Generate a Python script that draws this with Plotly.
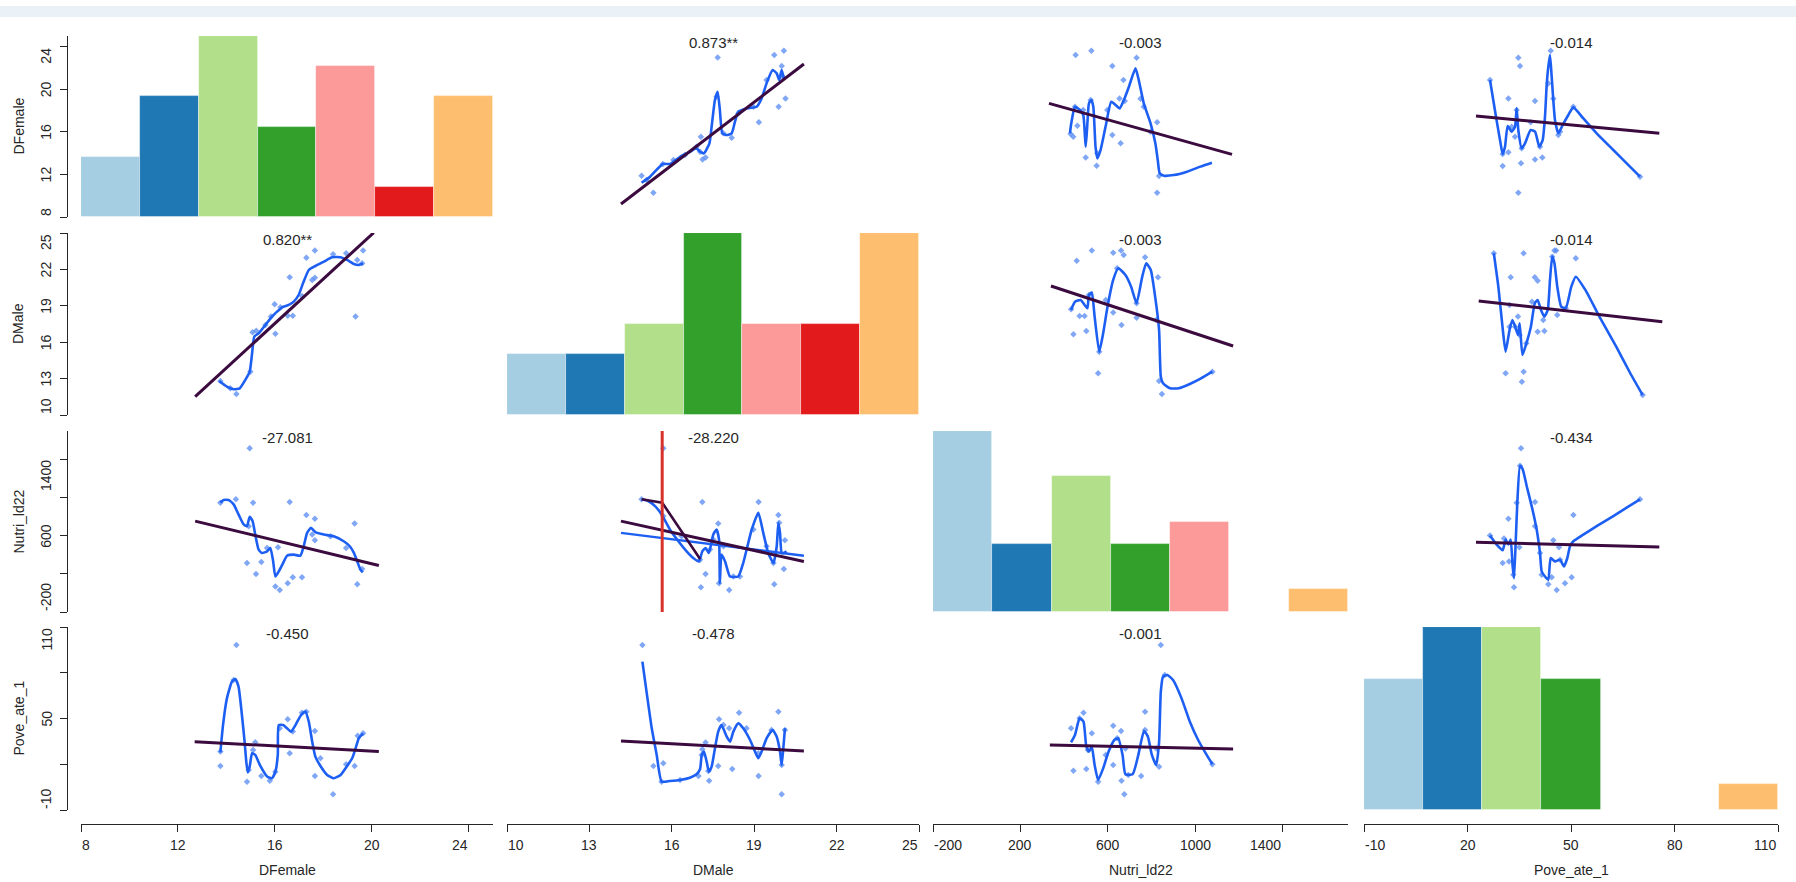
import numpy as np
import plotly.graph_objects as go

W, H = 1796, 882

# ---------------- variables, scales, ticks ----------------
var_names = ["DFemale", "DMale", "Nutri_ld22", "Pove_ate_1"]
dfemale_range = [8, 25]
dmale_range = [10, 25]
nutri_range = [-200, 1700]
pove_range = [-10, 110]

dfemale_ticks = [8, 12, 16, 20, 24]
dmale_ticks = [10, 13, 16, 19, 22, 25]
nutri_ticks = [-200, 200, 600, 1000, 1400]
pove_ticks = [-10, 20, 50, 80, 110]
nutri_row_labels = ["-200", "", "600", "", "1400"]
pove_row_labels = ["-10", "", "50", "", "110"]

# ---------------- diagonal histograms (7 equal bins) ----------------
dfemale_counts = [2, 4, 6, 3, 5, 1, 4]
dmale_counts = [2, 2, 3, 6, 3, 3, 6]
nutri_counts = [8, 3, 6, 3, 4, 0, 1]
pove_counts = [5, 7, 7, 5, 0, 0, 1]
bin_colors = ["#A6CEE3", "#1F78B4", "#B2DF8A", "#33A02C", "#FB9A99", "#E31A1C", "#FDBF6F"]

# ---------------- row 1: DFemale ----------------
r1c2_label = "0.873**"
r1c2_x = [14.90, 15.08, 15.33, 15.67, 16.06, 16.48, 16.90, 17.03, 17.06, 17.12, 17.23, 17.63, 17.67,
          17.88, 18.18, 18.42, 18.97, 19.17, 19.45, 19.73, 19.89, 20.08, 20.00, 20.04, 20.14]
r1c2_y = [11.88, 11.47, 10.28, 12.98, 13.35, 13.82, 14.60, 14.13, 15.54, 13.41, 13.60, 19.30, 22.99,
          15.86, 15.45, 17.73, 18.36, 16.89, 20.86, 23.21, 18.36, 23.62, 22.18, 21.18, 19.14]
r1c2_sx = [14.90, 15.21, 15.67, 15.93, 16.30, 16.66, 16.90, 17.03, 17.17, 17.37, 17.45, 17.57, 17.67, 17.75,
           17.84, 18.00, 18.18, 18.30, 18.42, 18.72, 19.09, 19.27, 19.45, 19.67, 19.82, 19.91, 20.00, 20.08]
r1c2_sy = [11.22, 11.79, 12.98, 12.98, 13.66, 14.13, 14.45, 14.13, 13.98, 14.92, 16.48, 18.99, 19.77, 18.05,
           15.86, 15.70, 15.86, 16.95, 17.89, 18.20, 18.36, 19.14, 20.55, 21.80, 21.49, 20.86, 21.80, 21.02]
r1c2_fit_x = [14.15, 20.81]
r1c2_fit_y = [9.22, 22.37]

r1c3_label = "-0.003"
r1c3_x = [453, 525, 621, 672, 732, 654, 678, 750, 765, 461, 430, 442, 621, 659, 499, 549, 826, 835, 826,
          450, 488, 522, 552, 598, 796]
r1c3_y = [23.21, 23.62, 22.18, 20.86, 22.96, 19.14, 18.89, 19.11, 18.36, 16.58, 15.79, 15.54, 15.70, 14.92,
          13.60, 12.82, 16.89, 11.85, 10.28, 18.36, 18.05, 18.99, 13.98, 18.05, 16.01]
r1c3_sx = [427, 433, 450, 473, 488, 499, 506, 514, 525, 534, 544, 552, 567, 590, 616, 636, 655, 674, 697,
           727, 742, 765, 796, 818, 829, 838, 857, 902, 963, 1024, 1077]
r1c3_sy = [15.86, 16.80, 18.36, 18.05, 17.58, 14.60, 16.48, 18.67, 18.99, 18.36, 14.60, 13.51, 14.29, 16.48,
           18.83, 18.52, 18.20, 18.99, 20.24, 21.96, 20.86, 18.67, 16.80, 14.92, 13.35, 12.10, 11.88, 11.94,
           12.26, 12.73, 13.10]
r1c3_fit_x = [331, 1169]
r1c3_fit_y = [18.67, 13.88]

r1c4_label = "-0.014"
r1c4_x = [34.73, 35.22, 44.11, 31.84, 39.57, 44.88, 50.68, 38.31, 33.77, 31.84, 30.19, 35.51, 39.57, 41.69,
          34.73, 46.33, 26.52, 70.00, 30.19, 34.25, 35.70, 41.01, 43.43, 46.81, 32.80]
r1c4_y = [22.96, 22.18, 23.62, 19.14, 18.89, 19.11, 18.36, 16.89, 15.54, 14.07, 12.79, 13.04, 13.41, 13.60,
          10.28, 15.70, 20.86, 11.79, 13.92, 18.05, 14.45, 14.60, 20.55, 16.01, 16.48]
r1c4_sx = [26.52, 28.26, 29.42, 30.19, 30.87, 31.64, 32.80, 33.77, 34.25, 34.73, 35.70, 36.67, 38.31, 39.57,
           40.82, 41.79, 42.46, 42.95, 43.43, 43.91, 44.40, 45.36, 46.33, 47.58, 49.23, 50.68, 53.57, 57.44,
           62.27, 66.14, 70.00]
r1c4_sy = [20.86, 17.42, 15.23, 13.92, 14.60, 16.54, 16.01, 16.48, 18.20, 16.17, 14.45, 14.92, 16.17, 16.01,
           14.60, 15.23, 17.42, 20.39, 22.12, 23.21, 21.18, 17.11, 15.86, 16.64, 17.58, 18.30, 17.26, 15.86,
           14.29, 13.04, 11.79]
r1c4_fit_x = [22.46, 75.60]
r1c4_fit_y = [17.48, 15.86]

# ---------------- row 2: DMale ----------------
r2c1_label = "0.820**"
r2c1_x = [13.75, 14.41, 14.99, 15.08, 15.23, 16.02, 15.99, 16.23, 16.61, 16.53, 16.74, 17.12, 17.30, 17.65,
          17.54, 17.65, 18.40, 18.94, 19.33, 19.40, 19.64, 15.61, 15.84, 14.16, 19.60]
r2c1_y = [12.80, 11.73, 13.57, 16.82, 16.95, 16.70, 19.12, 18.88, 21.35, 18.19, 18.19, 19.81, 22.97, 23.55,
          21.13, 21.32, 23.25, 23.33, 18.11, 22.78, 23.55, 17.42, 18.11, 12.20, 22.50]
r2c1_sx = [13.70, 14.02, 14.30, 14.55, 14.78, 14.96, 15.06, 15.15, 15.33, 15.61, 15.88, 16.09, 16.30, 16.57,
           16.78, 16.98, 17.16, 17.40, 17.67, 18.02, 18.36, 18.71, 18.98, 19.26, 19.46, 19.64]
r2c1_sy = [12.80, 12.34, 12.12, 12.20, 12.89, 13.57, 15.08, 16.46, 16.73, 17.42, 18.11, 18.52, 18.88, 19.07,
           19.34, 19.89, 20.85, 21.95, 22.28, 22.64, 23.00, 23.00, 22.78, 22.45, 22.37, 22.50]
r2c1_fit_x = [12.71, 20.08]
r2c1_fit_y = [11.51, 25.03]

r2c3_label = "-0.003"
r2c3_x = [458, 527, 625, 661, 673, 771, 830, 432, 471, 494, 502, 443, 625, 663, 732, 556, 835, 848, 514,
          561, 643, 732, 822, 1079, 591]
r2c3_y = [22.72, 23.55, 23.38, 23.55, 23.19, 23.00, 21.35, 18.71, 18.16, 18.16, 16.92, 16.65, 18.44, 17.42,
          18.02, 13.44, 12.80, 11.73, 19.89, 15.22, 22.09, 19.21, 17.83, 13.57, 19.48]
r2c3_sx = [432, 450, 476, 494, 507, 514, 527, 540, 561, 579, 599, 625, 648, 681, 707, 732, 758, 776, 797,
           817, 835, 843, 853, 886, 925, 976, 1027, 1079]
r2c3_sy = [18.66, 19.34, 19.48, 19.07, 18.79, 19.89, 20.09, 18.11, 15.22, 16.73, 18.93, 21.13, 22.09, 21.54,
           20.58, 19.21, 21.40, 22.50, 21.95, 19.76, 17.01, 13.16, 12.61, 12.20, 12.20, 12.56, 13.02, 13.57]
r2c3_fit_x = [340, 1174]
r2c3_fit_y = [20.63, 15.69]

r2c4_label = "-0.014"
r2c4_x = [36.26, 45.21, 45.70, 51.39, 32.52, 39.51, 40.33, 32.19, 34.63, 38.70, 32.19, 41.95, 42.28, 40.33,
          46.02, 31.05, 36.26, 35.77, 27.63, 33.82, 44.56, 70.76, 37.07, 48.46, 35.12]
r2c4_y = [23.33, 23.55, 23.55, 22.92, 21.35, 21.35, 21.07, 19.07, 18.11, 19.34, 17.28, 17.83, 16.92, 16.87,
          18.24, 13.44, 13.57, 12.75, 23.33, 17.28, 23.05, 11.65, 15.91, 18.79, 16.60]
r2c4_sx = [27.63, 28.94, 30.24, 31.05, 32.19, 33.00, 33.82, 34.63, 35.12, 35.93, 37.07, 38.37, 39.51, 40.33,
           41.30, 42.28, 43.26, 43.91, 44.56, 45.21, 46.02, 47.16, 48.46, 50.09, 51.39, 54.16, 58.23, 63.11,
           67.18, 70.76]
r2c4_sy = [23.33, 20.58, 17.01, 15.22, 17.01, 17.83, 17.28, 16.60, 17.56, 14.95, 15.91, 17.28, 19.21, 19.48,
           18.66, 18.11, 18.66, 21.13, 23.05, 22.50, 20.58, 18.93, 18.79, 20.58, 21.40, 20.31, 18.11, 15.63,
           13.44, 11.65]
r2c4_fit_x = [23.24, 76.46]
r2c4_fit_y = [19.40, 17.69]

# ---------------- row 3: Nutri_ld22 ----------------
r3c1_label = "-27.081"
r3c1_x = [13.75, 14.39, 15.10, 14.96, 16.61, 17.30, 17.65, 19.29, 17.54, 17.65, 14.85, 15.44, 15.22, 16.13,
          16.02, 16.20, 16.53, 16.74, 17.12, 19.40, 18.94, 19.60, 14.92, 15.68, 18.29]
r3c1_y = [948, 983, 948, 1518, 954, 817, 779, 729, 613, 553, 314, 324, 198, 479, 67, 32, 103, 166, 166,
          92, 472, 251, 701, 472, 595]
r3c1_sx = [13.75, 13.88, 14.09, 14.30, 14.50, 14.71, 14.85, 14.96, 15.08, 15.19, 15.33, 15.47, 15.68, 15.81,
           15.92, 16.02, 16.16, 16.34, 16.50, 16.78, 17.05, 17.19, 17.33, 17.49, 17.67, 18.02, 18.43, 18.84,
           19.09, 19.26, 19.40, 19.53, 19.63]
r3c1_sy = [948, 976, 976, 930, 824, 719, 701, 800, 754, 613, 455, 420, 437, 472, 349, 173, 226, 314, 391,
           402, 391, 490, 631, 684, 638, 613, 595, 543, 490, 420, 331, 244, 215]
r3c1_fit_x = [12.71, 20.29]
r3c1_fit_y = [754, 289]

r3c2_label = "-28.220"
r3c2_x = [14.90, 17.11, 17.69, 19.16, 19.88, 20.12, 20.08, 17.23, 17.06, 17.72, 18.09, 19.73, 15.69, 17.88,
          17.03, 17.51, 18.48, 18.97, 19.70, 19.91, 16.36, 18.24, 15.69, 17.39, 19.45]
r3c2_y = [983, 954, 729, 954, 817, 553, 251, 198, 60, 103, 32, 92, 1518, 490, 349, 560, 173, 666, 314, 736,
          595, 173, 807, 455, 490]
r3c2_sx = [14.90, 15.14, 15.39, 15.63, 15.93, 16.24, 16.54, 16.78, 16.99, 17.11, 17.23, 17.35, 17.51, 17.63,
           17.72, 17.75, 17.81, 17.94, 18.12, 18.42, 18.60, 18.91, 19.15, 19.33, 19.51, 19.70, 19.82, 19.88,
           19.94, 20.00, 20.08, 20.18]
r3c2_sy = [983, 965, 912, 824, 666, 543, 437, 367, 331, 437, 472, 420, 613, 666, 560, 103, 402, 331, 173,
           173, 314, 666, 842, 631, 420, 314, 490, 736, 631, 420, 420, 437]
r3c2_fit_x = [14.15, 20.81]
r3c2_fit_y = [754, 331]
r3c2_alt_fit_x = [14.15, 20.81]
r3c2_alt_fit_y = [631, 391]
r3c2_segment_x = [14.90, 15.65, 17.03]
r3c2_segment_y = [983, 948, 356]
r3c2_marker_x = 15.65

r3c4_label = "-0.434"
r3c4_x = [35.51, 39.57, 31.84, 30.58, 50.68, 44.88, 46.52, 35.02, 30.19, 32.03, 33.48, 43.43, 45.85, 48.26,
          50.19, 44.40, 26.52, 70.00, 35.22, 33.28, 41.50, 34.25, 39.57, 46.81, 41.01]
r3c4_y = [1518, 954, 779, 571, 817, 553, 479, 479, 314, 331, 60, 92, 32, 103, 166, 166, 603, 983, 1335,
          191, 191, 948, 701, 349, 420]
r3c4_sx = [26.52, 28.45, 30.19, 31.06, 31.84, 32.51, 33.09, 33.48, 33.96, 34.44, 35.22, 35.99, 37.15, 38.60,
           40.05, 41.01, 41.50, 42.46, 43.43, 44.11, 45.36, 46.81, 47.97, 48.94, 49.71, 50.68, 53.57, 57.44,
           62.27, 66.14, 70.00]
r3c4_sy = [603, 508, 448, 560, 508, 560, 279, 156, 525, 948, 1335, 1300, 1123, 912, 666, 420, 226, 173, 138,
           367, 331, 349, 279, 367, 490, 543, 613, 701, 807, 895, 983]
r3c4_fit_x = [22.46, 75.60]
r3c4_fit_y = [532, 483]

# ---------------- row 4: Pove_ate_1 ----------------
r4c1_label = "-0.450"
r4c1_x = [14.41, 13.75, 14.85, 15.19, 15.10, 15.44, 15.79, 16.20, 16.53, 16.61, 16.74, 17.12, 17.30, 17.65,
          17.65, 18.40, 18.94, 19.29, 19.42, 13.75, 14.30, 14.92, 16.02, 17.88, 19.64]
r4c1_y = [98.2, 18.9, 8.6, 34.4, 29.3, 12.3, 9.2, 43.6, 49.5, 27.2, 41.4, 53.8, 54.5, 41.8, 12.3, 0.3, 20.0,
          18.9, 38.7, 28.3, 75.2, 16.2, 15.1, 23.9, 40.3]
r4c1_sx = [13.75, 13.86, 14.02, 14.23, 14.37, 14.50, 14.64, 14.75, 14.82, 14.88, 14.96, 15.06, 15.19, 15.40,
           15.68, 15.88, 16.02, 16.12, 16.16, 16.34, 16.50, 16.67, 16.85, 17.08, 17.26, 17.40, 17.54, 17.67,
           17.88, 18.16, 18.43, 18.71, 18.98, 19.19, 19.33, 19.46, 19.64]
r4c1_sy = [27.8, 45.7, 63.2, 74.2, 75.9, 70.9, 52.3, 34.8, 21.7, 14.7, 18.4, 27.2, 26.1, 18.9, 11.9, 10.8,
           15.1, 26.1, 45.7, 45.7, 43.6, 41.4, 45.7, 52.3, 54.5, 47.9, 34.8, 25.0, 18.9, 13.0, 10.8, 13.0,
           18.9, 23.9, 30.4, 37.0, 40.3]
r4c1_fit_x = [12.69, 20.29]
r4c1_fit_y = [34.8, 28.3]

r4c2_label = "-0.478"
r4c2_x = [14.93, 15.33, 15.69, 16.97, 17.11, 17.23, 17.36, 17.69, 17.72, 18.09, 18.20, 18.45, 19.16, 19.15,
          19.88, 20.00, 20.12, 15.63, 16.30, 17.09, 17.33, 17.88, 18.72, 19.63, 20.00]
r4c2_y = [98.2, 18.9, 20.6, 12.3, 29.8, 34.2, 9.2, 18.9, 49.5, 43.6, 16.9, 53.8, 12.3, 27.2, 54.5, 0.3, 42.5,
          8.6, 9.7, 26.1, 15.6, 45.7, 43.6, 42.5, 19.5]
r4c2_sx = [14.93, 15.08, 15.27, 15.45, 15.63, 15.93, 16.30, 16.66, 16.90, 17.03, 17.09, 17.17, 17.27, 17.35,
           17.45, 17.57, 17.69, 17.81, 18.00, 18.12, 18.24, 18.42, 18.60, 18.85, 19.03, 19.15, 19.27, 19.45,
           19.67, 19.82, 19.94, 20.00, 20.06, 20.12]
r4c2_sy = [87.3, 67.6, 43.6, 26.1, 8.6, 9.0, 9.7, 11.2, 13.4, 16.9, 26.1, 28.3, 21.7, 15.1, 18.4, 30.4,
           41.4, 45.7, 38.1, 34.8, 41.4, 46.8, 43.6, 35.9, 28.3, 23.9, 28.3, 37.0, 42.5, 38.1, 28.3, 19.5,
           30.4, 43.6]
r4c2_fit_x = [14.15, 20.81]
r4c2_fit_y = [35.2, 28.7]

r4c3_label = "-0.001"
r4c3_x = [843, 432, 489, 527, 443, 502, 625, 661, 625, 663, 676, 753, 771, 835, 556, 471, 509, 643, 681,
          694, 771, 822, 861, 1079, 591]
r4c3_y = [98.2, 43.6, 53.8, 40.3, 15.8, 16.9, 45.3, 41.8, 19.5, 9.2, 0.3, 12.3, 54.5, 18.4, 8.6, 50.1,
          29.3, 37.0, 30.4, 13.0, 42.5, 30.4, 78.5, 20.0, 26.1]
r4c3_sx = [432, 450, 471, 489, 502, 514, 527, 540, 556, 579, 604, 630, 648, 668, 681, 714, 740, 766, 784,
           802, 822, 835, 843, 853, 873, 899, 938, 976, 1014, 1053, 1079]
r4c3_sy = [34.4, 39.2, 50.1, 47.9, 31.5, 28.3, 31.5, 19.5, 9.7, 17.3, 28.3, 35.9, 37.0, 26.1, 13.4, 13.4,
           26.1, 41.8, 38.1, 26.1, 19.5, 34.4, 67.6, 77.4, 78.5, 75.2, 63.2, 47.9, 35.9, 26.1, 20.0]
r4c3_fit_x = [335, 1174]
r4c3_fit_y = [32.6, 30.0]

# ---------------- styling ----------------
FONT = "Liberation Sans, Arial, Helvetica, sans-serif"
INK = "#262626"
POINT_COLOR = "rgba(86,138,242,0.75)"
SMOOTH_COLOR = "#1D5FF2"
FIT_COLOR = "#3B0B3F"
MARK_COLOR = "#D8302A"

# panel geometry in pixels (left, right) per column and (top, bottom) per row
col_px = [(81, 493), (507, 919), (933, 1348), (1364, 1778)]
row_px = [(36, 217), (233, 415), (431, 612), (627, 810)]
x_axis_px = 824
y_axis_px = 67
x_label_px = 845
y_label_px = 46

ranges = [dfemale_range, dmale_range, nutri_range, pove_range]
col_ticks = [dfemale_ticks, dmale_ticks, nutri_ticks, pove_ticks]
col_labels = [[str(v) for v in t] for t in col_ticks]
row_labels = [[str(v) for v in dfemale_ticks], [str(v) for v in dmale_ticks], nutri_row_labels, pove_row_labels]
counts = [dfemale_counts, dmale_counts, nutri_counts, pove_counts]


def xid(c):
    return "x" if c == 1 else f"x{c}"


def yid(r):
    return "y" if r == 1 else f"y{r}"


def px_x(p):
    return p / W


def px_y(p):
    return 1 - p / H


panels = [
    (1, 2, r1c2_x, r1c2_y, r1c2_sx, r1c2_sy, r1c2_fit_x, r1c2_fit_y, r1c2_label),
    (1, 3, r1c3_x, r1c3_y, r1c3_sx, r1c3_sy, r1c3_fit_x, r1c3_fit_y, r1c3_label),
    (1, 4, r1c4_x, r1c4_y, r1c4_sx, r1c4_sy, r1c4_fit_x, r1c4_fit_y, r1c4_label),
    (2, 1, r2c1_x, r2c1_y, r2c1_sx, r2c1_sy, r2c1_fit_x, r2c1_fit_y, r2c1_label),
    (2, 3, r2c3_x, r2c3_y, r2c3_sx, r2c3_sy, r2c3_fit_x, r2c3_fit_y, r2c3_label),
    (2, 4, r2c4_x, r2c4_y, r2c4_sx, r2c4_sy, r2c4_fit_x, r2c4_fit_y, r2c4_label),
    (3, 1, r3c1_x, r3c1_y, r3c1_sx, r3c1_sy, r3c1_fit_x, r3c1_fit_y, r3c1_label),
    (3, 2, r3c2_x, r3c2_y, r3c2_sx, r3c2_sy, r3c2_fit_x, r3c2_fit_y, r3c2_label),
    (3, 4, r3c4_x, r3c4_y, r3c4_sx, r3c4_sy, r3c4_fit_x, r3c4_fit_y, r3c4_label),
    (4, 1, r4c1_x, r4c1_y, r4c1_sx, r4c1_sy, r4c1_fit_x, r4c1_fit_y, r4c1_label),
    (4, 2, r4c2_x, r4c2_y, r4c2_sx, r4c2_sy, r4c2_fit_x, r4c2_fit_y, r4c2_label),
    (4, 3, r4c3_x, r4c3_y, r4c3_sx, r4c3_sy, r4c3_fit_x, r4c3_fit_y, r4c3_label),
]

fig = go.Figure()

# diagonal: histograms drawn on their own hidden count axes
for i in range(4):
    lo, hi = ranges[i]
    edges = np.linspace(lo, hi, len(counts[i]) + 1)
    centers = (edges[:-1] + edges[1:]) / 2
    fig.add_trace(go.Bar(
        x=centers, y=counts[i], width=edges[1] - edges[0],
        marker=dict(color=bin_colors, line=dict(color="rgba(255,255,255,0.55)", width=0.8)),
        xaxis=xid(i + 1), yaxis=f"y{5 + i}", showlegend=False, hoverinfo="skip",
    ))

annotations = []
for (r, c, px, py, sx, sy, fx, fy, label) in panels:
    ax, ay = xid(c), yid(r)
    fig.add_trace(go.Scatter(x=px, y=py, mode="markers", xaxis=ax, yaxis=ay, showlegend=False,
                             marker=dict(symbol="diamond", size=5, color=POINT_COLOR,
                                         line=dict(width=0))))
    fig.add_trace(go.Scatter(x=sx, y=sy, mode="lines", xaxis=ax, yaxis=ay, showlegend=False,
                             line=dict(color=SMOOTH_COLOR, width=2.6, shape="spline", smoothing=0.5)))
    if (r, c) == (3, 2):
        fig.add_trace(go.Scatter(x=r3c2_alt_fit_x, y=r3c2_alt_fit_y, mode="lines", xaxis=ax, yaxis=ay,
                                 showlegend=False, line=dict(color=SMOOTH_COLOR, width=2.4)))
        fig.add_trace(go.Scatter(x=r3c2_segment_x, y=r3c2_segment_y, mode="lines", xaxis=ax, yaxis=ay,
                                 showlegend=False, line=dict(color=FIT_COLOR, width=2.6)))
    fig.add_trace(go.Scatter(x=fx, y=fy, mode="lines", xaxis=ax, yaxis=ay, showlegend=False,
                             line=dict(color=FIT_COLOR, width=3)))
    if (r, c) == (3, 2):
        fig.add_trace(go.Scatter(x=[r3c2_marker_x, r3c2_marker_x], y=[nutri_range[0], nutri_range[1]],
                                 mode="lines", xaxis=ax, yaxis=ay, showlegend=False,
                                 line=dict(color=MARK_COLOR, width=3)))
    cx = (col_px[c - 1][0] + col_px[c - 1][1]) / 2
    annotations.append(dict(x=px_x(cx), y=px_y(row_px[r - 1][0] + 6.5), xref="paper", yref="paper",
                            text=label, showarrow=False, xanchor="center", yanchor="middle",
                            font=dict(family=FONT, size=15, color=INK)))

layout = dict(
    width=W, height=H, margin=dict(l=0, r=0, t=0, b=0, pad=0),
    paper_bgcolor="white", plot_bgcolor="rgba(0,0,0,0)",
    showlegend=False, bargap=0,
)

axis_common = dict(showline=True, linecolor=INK, linewidth=1.4, ticks="outside", ticklen=7,
                   tickwidth=1.4, tickcolor=INK, showgrid=False, zeroline=False,
                   showticklabels=False, fixedrange=True)

tick_font = dict(family=FONT, size=14, color=INK)

for c in range(1, 5):
    key = "xaxis" if c == 1 else f"xaxis{c}"
    layout[key] = dict(axis_common, domain=[px_x(col_px[c - 1][0]), px_x(col_px[c - 1][1])],
                       range=ranges[c - 1], anchor="free", position=px_y(x_axis_px),
                       tickmode="array", tickvals=col_ticks[c - 1])
    # tick labels: end labels kept inside the axis span
    ticks = col_ticks[c - 1]
    for k, (v, t) in enumerate(zip(ticks, col_labels[c - 1])):
        if not t:
            continue
        anchor = "left" if k == 0 else ("right" if k == len(ticks) - 1 else "center")
        annotations.append(dict(x=v, y=px_y(x_label_px), xref=xid(c), yref="paper", text=t,
                                showarrow=False, xanchor=anchor, yanchor="middle",
                                borderpad=0, font=tick_font))

for r in range(1, 5):
    key = "yaxis" if r == 1 else f"yaxis{r}"
    dom = [px_y(row_px[r - 1][1]), px_y(row_px[r - 1][0])]
    layout[key] = dict(axis_common, domain=dom, range=ranges[r - 1], anchor="free",
                       position=px_x(y_axis_px), tickmode="array", tickvals=col_ticks[r - 1])
    layout[f"yaxis{4 + r}"] = dict(domain=dom, range=[0, max(counts[r - 1])], anchor=xid(r),
                                   visible=False, fixedrange=True)
    ticks = col_ticks[r - 1]
    for k, (v, t) in enumerate(zip(ticks, row_labels[r - 1])):
        if not t:
            continue
        anchor = "bottom" if k == 0 else ("top" if k == len(ticks) - 1 else "middle")
        annotations.append(dict(x=px_x(y_label_px), y=v, xref="paper", yref=yid(r), text=t,
                                showarrow=False, xanchor="center", yanchor=anchor, textangle=-90,
                                borderpad=0, font=tick_font))

# axis titles
for i, name in enumerate(var_names):
    cx = (col_px[i][0] + col_px[i][1]) / 2
    annotations.append(dict(x=px_x(cx), y=px_y(870), xref="paper", yref="paper", text=name,
                            showarrow=False, xanchor="center", yanchor="middle",
                            font=dict(family=FONT, size=14, color=INK)))
    cy = (row_px[i][0] + row_px[i][1]) / 2
    annotations.append(dict(x=px_x(18), y=px_y(cy), xref="paper", yref="paper", text=name,
                            showarrow=False, xanchor="center", yanchor="middle", textangle=-90,
                            font=dict(family=FONT, size=14, color=INK)))

layout["annotations"] = annotations
layout["shapes"] = [
    dict(type="rect", xref="paper", yref="paper", x0=0, x1=1, y0=px_y(17), y1=px_y(6),
         fillcolor="#EAF2F8", line=dict(width=0), layer="below"),
]

fig.update_layout(**layout)
fig.write_html("out.html")
